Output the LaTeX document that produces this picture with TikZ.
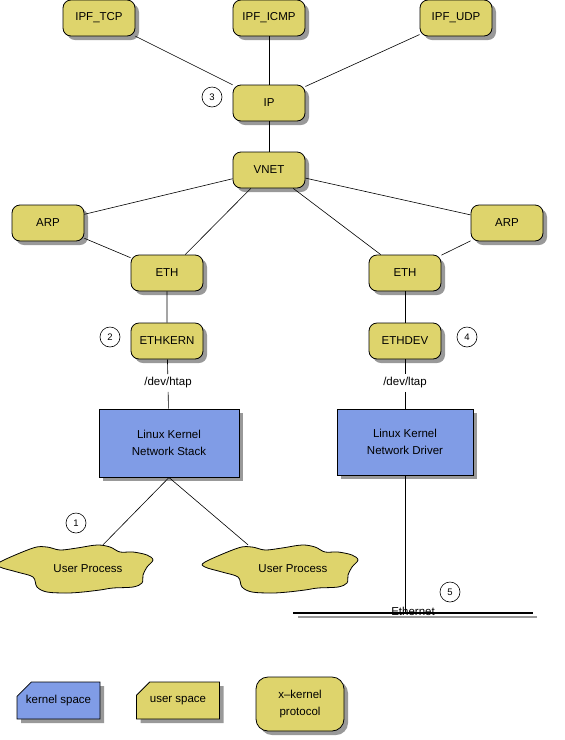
\documentclass[tikz,border=0pt]{standalone}
\usepackage{fontspec}
\setmainfont{Liberation Sans}
\usetikzlibrary{shapes,shadows,positioning}

\definecolor{protoyellow}{RGB}{222,212,108}
\definecolor{kernelblue}{RGB}{128,156,230}

\newcommand{\procblob}[2]{%
  \filldraw[fill=protoyellow,line width=0.8pt,shift={(#1,#2)}] plot[smooth cycle,tension=0.55] coordinates
    {(-88,-7) (-55,-21) (-41,-22) (-28,-19) (-11,-21) (9,-24) (22,-22) (32,-17) (45,-17) (59,-14)
     (65,-9) (59,-2) (55,6) (54,14) (45,18) (25,19) (12,21) (-5,23) (-21,24) (-41,23) (-51,18)
     (-55,8) (-71,3) (-88,-2)};}

\begin{document}
\begin{tikzpicture}[x=1pt,y=-1pt,
  font=\fontsize{11.5}{17.5}\selectfont,
  boxshadow/.style={drop shadow={shadow xshift=4pt,shadow yshift=-4pt,fill=black!40,opacity=1}},
  proto/.style={draw,line width=0.8pt,fill=protoyellow,rounded corners=8pt,minimum width=72pt,minimum height=36pt,inner sep=1pt,boxshadow},
  kernel/.style={draw,line width=1pt,fill=kernelblue,minimum width=140pt,minimum height=68pt,align=center,boxshadow},
  note/.style={draw,line width=0.8pt,chamfered rectangle,chamfered rectangle corners=north west,chamfered rectangle xsep=9pt,chamfered rectangle ysep=9pt,minimum width=83pt,minimum height=37pt,inner sep=0pt,boxshadow},
  num/.style={draw,circle,line width=0.6pt,minimum size=20pt,inner sep=0pt,font=\fontsize{9.5}{9.5}\selectfont},
  link/.style={line width=0.6pt}]
\useasboundingbox (0,0) rectangle (565,740);

% x-kernel protocol graph
\node[proto] (ipftcp) at (99,18) {IPF\_TCP};
\node[proto] (ipficmp) at (269,18) {IPF\_ICMP};
\node[proto] (ipfudp) at (456,18) {IPF\_UDP};
\node[proto] (ip) at (269,103) {IP};
\node[proto] (vnet) at (269,170) {VNET};
\node[proto] (arpl) at (48,223) {ARP};
\node[proto] (arpr) at (507,223) {ARP};
\node[proto] (ethl) at (167,273) {ETH};
\node[proto] (ethr) at (405,273) {ETH};
\node[proto] (ethkern) at (167,341) {ETHKERN};
\node[proto] (ethdev) at (405,341) {ETHDEV};

\node (htap) at (168,383) {/dev/htap};
\node (ltap) at (405,383) {/dev/ltap};

\node[kernel] (stack) at (169,443) {Linux Kernel\\Network Stack};
\node[kernel,minimum width=136pt,minimum height=66pt] (driver) at (405,442) {Linux Kernel\\Network Driver};

\procblob{88}{569}
\procblob{293}{569}
\node[minimum height=48pt] (upl) at (88,569) {User Process};
\node[minimum height=48pt] (upr) at (293,569) {User Process};

\node[num] (n3) at (212,97) {3};
\node[num] (n2) at (110,337) {2};
\node[num] (n4) at (467,337) {4};
\node[num] (n1) at (76,523) {1};
\node[num] (n5) at (450,592) {5};

\draw[link] (ipftcp) -- (ip);
\draw[link] (ipficmp) -- (ip);
\draw[link] (ipfudp) -- (ip);
\draw[link] (ip) -- (vnet);
\draw[link] (vnet) -- (arpl);
\draw[link] (vnet) -- (ethl);
\draw[link] (vnet) -- (ethr);
\draw[link] (vnet) -- (arpr);
\draw[link] (arpl) -- (ethl);
\draw[link] (arpr) -- (ethr);
\draw[link] (ethl) -- (ethkern) -- (htap) -- (stack);
\draw[link] (ethr) -- (ethdev) -- (ltap) -- (driver);
\draw[link] (stack.south) -- ([xshift=15pt]upl.north);
\draw[link] (stack.south) -- ([xshift=-45pt]upr.north);

% ethernet wire
\coordinate (ethL) at (293,613);
\coordinate (ethR) at (533,613);
\coordinate (ethLs) at (298,617);
\coordinate (ethRs) at (537,617);
\coordinate (tap) at (405,613);
\draw[line width=2pt,black!40] (ethLs) -- (ethRs);
\draw[line width=2pt] (ethL) -- (ethR);
\draw[link] (driver) -- (tap);
\node (ether) at (413,611) {Ethernet};

% legend
\node[note,fill=kernelblue] (lkernel) at (58.5,700.5) {kernel space};
\node[note,fill=protoyellow] (luser) at (178,700.5) {user space};
\node[proto,rounded corners=12pt,minimum width=88pt,minimum height=54pt,align=center] (lproto) at (300,704) {x--kernel\\protocol};
\end{tikzpicture}
\end{document}
